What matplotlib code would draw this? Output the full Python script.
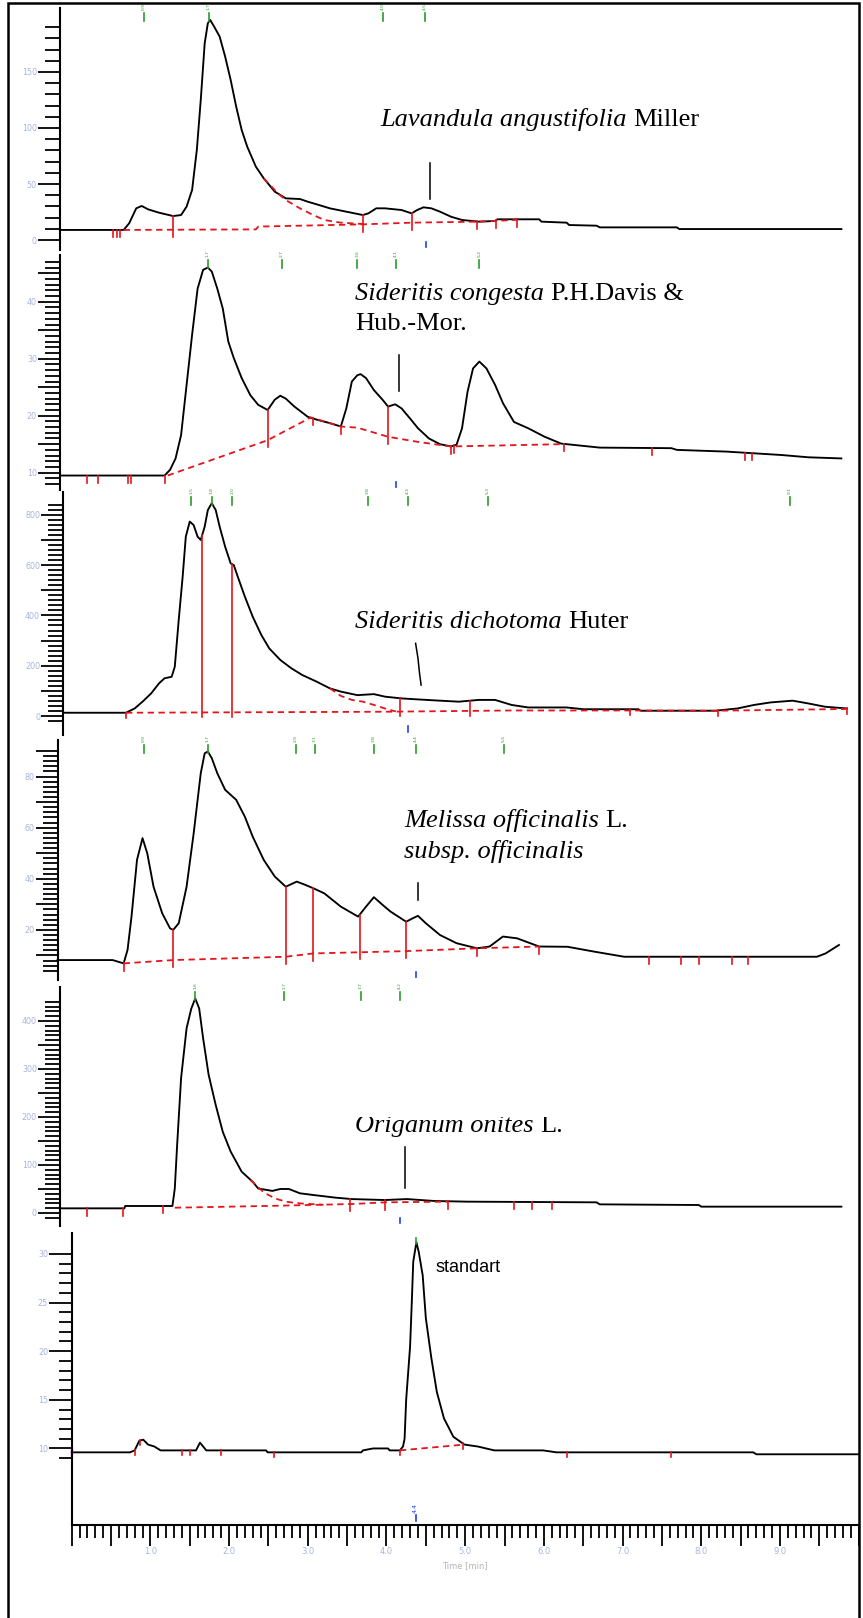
import matplotlib.pyplot as plt
import numpy as np
from matplotlib.ticker import FuncFormatter
from matplotlib.transforms import blended_transform_factory, Bbox
from matplotlib.patches import Rectangle

W, H = 863, 1618
RED = '#e3141c'
GREEN = '#2a9a2a'
BLUE = '#1f3fe6'
TICKCOL = '#a9b4de'

# ---------------- data (time in min, detector signal) ----------------
# Lavandula angustifolia Miller
lav_t = [-0.15, 0.66, 0.73, 0.82, 0.89, 0.97, 1.11, 1.29, 1.39, 1.46, 1.53, 1.59, 1.64, 1.69,
         1.73, 1.76, 1.81, 1.88, 1.95, 2.02, 2.09, 2.16, 2.23, 2.34, 2.44, 2.58, 2.72, 2.90,
         3.00, 3.14, 3.28, 3.49, 3.70, 3.77, 3.87, 3.98, 4.19, 4.32, 4.39, 4.47, 4.57, 4.68,
         4.82, 4.96, 5.17, 5.38, 5.41, 5.94, 5.97, 6.29, 6.32, 6.67, 6.71, 7.69, 7.72, 9.78]
lav_v = [9.0, 9.0, 14.9, 28.3, 30.4, 27.4, 24.4, 21.4, 22.3, 29.8, 44.7, 80.4, 125.0, 175.6,
         193.5, 196.4, 190.5, 181.6, 163.7, 142.9, 119.1, 98.2, 83.4, 65.5, 55.1, 43.2, 37.2, 36.6,
         34.2, 31.3, 28.3, 25.3, 22.3, 23.8, 28.3, 28.3, 26.8, 23.8, 26.8, 29.2, 28.3, 25.3,
         20.8, 17.9, 16.4, 17.0, 18.5, 18.5, 16.4, 15.5, 13.4, 12.8, 11.3, 11.3, 9.8, 9.8]
lav_base_t = [0.66, 2.34, 2.37, 3.70, 4.32, 5.17, 5.66]
lav_base_v = [9.0, 9.5, 12.0, 14.0, 15.5, 16.4, 18.0]
lav_tail_t = [2.44, 2.62, 2.72, 2.90, 3.07, 3.21, 3.42, 3.70]
lav_tail_v = [55.1, 41.7, 35.7, 28.3, 22.3, 17.9, 15.5, 14.3]
lav_cuts = [0.52, 0.57, 0.62, 1.29, 3.70, 4.32, 5.15, 5.39, 5.66]
lav_peaks = [0.92, 1.74, 3.95, 4.49]
lav_blue = [4.50]

# Sideritis congesta
con_t = [-0.15, 1.18, 1.25, 1.32, 1.39, 1.46, 1.53, 1.60, 1.67, 1.73, 1.78, 1.85, 1.92, 1.99,
         2.06, 2.16, 2.27, 2.37, 2.49, 2.58, 2.65, 2.72, 2.83, 3.00, 3.14, 3.28, 3.42, 3.49,
         3.56, 3.63, 3.67, 3.74, 3.84, 3.95, 4.02, 4.11, 4.19, 4.30, 4.40, 4.54, 4.68, 4.82,
         4.89, 4.96, 5.03, 5.10, 5.18, 5.27, 5.38, 5.48, 5.62, 5.80, 6.01, 6.22, 6.36, 6.71,
         7.62, 7.69, 8.32, 9.02, 9.36, 9.78]
con_v = [9.5, 9.5, 10.5, 12.5, 16.6, 25.4, 34.2, 42.3, 45.6, 46.0, 45.3, 42.3, 38.8, 33.0,
         30.1, 26.6, 23.6, 21.9, 21.0, 22.8, 23.5, 23.0, 21.6, 19.8, 19.2, 18.7, 18.1, 21.3,
         26.0, 27.1, 27.3, 26.6, 24.5, 22.8, 21.6, 22.0, 21.3, 19.5, 17.8, 16.0, 15.0, 14.6,
         14.9, 17.8, 24.2, 28.3, 29.5, 28.3, 25.4, 22.2, 18.9, 17.8, 16.3, 15.1, 14.9, 14.4,
         14.3, 14.0, 13.7, 13.1, 12.7, 12.5]
con_base_t = [1.22, 2.49, 3.04, 3.42, 3.63, 4.02, 4.40, 4.82, 5.17, 6.22]
con_base_v = [9.5, 15.7, 19.7, 18.1, 17.9, 16.3, 15.4, 14.6, 14.7, 15.0]
con_cuts = [0.20, 0.34, 0.71, 0.75, 1.18, 2.49, 3.06, 3.42, 4.02, 4.82, 4.86, 6.25, 7.38, 8.56, 8.65]
con_peaks = [1.73, 2.67, 3.63, 4.12, 5.18]
con_blue = [4.12]

# Sideritis dichotoma Huter
dic_t = [-0.11, 0.69, 0.80, 0.90, 1.01, 1.11, 1.18, 1.27, 1.31, 1.36, 1.41, 1.45, 1.50, 1.55,
         1.60, 1.64, 1.69, 1.73, 1.78, 1.83, 1.88, 1.95, 2.02, 2.06, 2.11, 2.20, 2.30, 2.41,
         2.51, 2.65, 2.79, 2.93, 3.11, 3.28, 3.42, 3.63, 3.84, 3.98, 4.19, 4.40, 4.68, 4.92,
         5.17, 5.38, 5.59, 5.80, 6.29, 6.50, 7.20, 7.23, 8.18, 8.46, 8.67, 8.88, 9.16, 9.36,
         9.57, 9.85]
dic_v = [13, 13, 30, 57, 90, 130, 150, 156, 196, 382, 554, 713, 773, 759,
         713, 700, 753, 819, 846, 819, 753, 673, 607, 600, 554, 475, 395, 322,
         269, 223, 190, 163, 137, 110, 97, 83, 87, 77, 70, 66, 61, 57,
         64, 64, 44, 34, 34, 27, 27, 21, 21, 30, 44, 54, 61, 50,
         37, 30]
dic_base_t = [0.69, 3.98, 5.59, 7.10, 8.20, 9.85]
dic_base_v = [13, 17, 22, 22, 21, 28]
dic_tail_t = [3.28, 3.42, 3.56, 3.70, 3.84, 3.98, 4.12]
dic_tail_v = [110, 80, 64, 57, 44, 30, 18]
dic_cuts = [0.69, 1.66, 2.04, 4.17, 5.06, 7.09, 8.21, 9.85]
dic_peaks = [1.52, 1.78, 2.04, 3.76, 4.27, 5.29, 9.13]
dic_blue = [4.27]

# Melissa officinalis L. subsp. officinalis
mel_t = [-0.18, 0.52, 0.66, 0.71, 0.76, 0.83, 0.90, 0.96, 1.04, 1.15, 1.25, 1.29, 1.36, 1.46,
         1.55, 1.64, 1.69, 1.73, 1.78, 1.85, 1.95, 2.09, 2.20, 2.30, 2.44, 2.58, 2.72, 2.86,
         2.97, 3.07, 3.21, 3.42, 3.64, 3.74, 3.84, 3.95, 4.05, 4.25, 4.33, 4.40, 4.50, 4.68,
         4.89, 5.15, 5.31, 5.48, 5.66, 5.94, 6.30, 6.64, 7.02, 9.47, 9.58, 9.75]
mel_v = [8.2, 8.2, 6.9, 12.2, 25.2, 47.4, 55.9, 50.0, 36.9, 26.5, 20.6, 20.0, 22.6, 36.9,
         57.8, 81.3, 89.1, 89.8, 87.2, 81.3, 74.8, 70.9, 64.3, 56.5, 47.4, 40.9, 36.9, 38.9,
         37.6, 36.3, 34.3, 29.1, 25.2, 29.1, 32.8, 29.8, 27.2, 23.2, 24.5, 25.5, 22.6, 18.0,
         14.8, 12.8, 13.5, 17.4, 16.7, 13.5, 13.4, 11.5, 9.5, 9.5, 10.8, 14.1]
mel_base_t = [0.66, 1.29, 2.72, 3.07, 4.25, 5.15, 5.94]
mel_base_v = [6.9, 8.2, 9.5, 10.8, 11.7, 12.8, 13.5]
mel_cuts = [0.66, 1.29, 2.72, 3.07, 3.66, 4.25, 5.15, 5.94, 7.34, 7.74, 7.97, 8.39, 8.60]
mel_peaks = [0.92, 1.73, 2.85, 3.09, 3.84, 4.37, 5.49]
mel_blue = [4.38]

# Origanum onites L.
ori_t = [-0.15, 0.67, 0.68, 1.28, 1.31, 1.34, 1.39, 1.46, 1.52, 1.57, 1.62, 1.67, 1.74, 1.83,
         1.92, 2.02, 2.16, 2.30, 2.37, 2.55, 2.65, 2.76, 2.90, 3.07, 3.35, 3.56, 3.98, 4.26,
         4.61, 5.03, 6.67, 6.71, 7.97, 8.00, 9.78]
ori_v = [9.7, 9.7, 14.6, 14.6, 51, 142, 281, 385, 426, 447, 426, 364, 288, 225,
         169, 128, 86, 65, 51, 46, 50, 50, 41, 37.5, 32, 29, 27, 29,
         25, 23.6, 22.2, 18, 16.6, 13.2, 13.2]
ori_base_t = [1.31, 2.58, 3.56, 3.98, 4.78]
ori_base_v = [11, 15, 18.7, 22.2, 23.6]
ori_tail_t = [2.27, 2.44, 2.58, 2.72, 2.90, 3.20]
ori_tail_v = [69, 43, 30.5, 23.6, 20, 17]
ori_cuts = [0.20, 0.65, 1.16, 3.54, 3.98, 4.78, 5.62, 5.85, 6.10]
ori_peaks = [1.57, 2.70, 3.67, 4.17]
ori_blue = [4.17]

# standart
std_t = [0.00, 0.74, 0.80, 0.86, 0.91, 0.97, 1.05, 1.13, 1.58, 1.63, 1.71, 2.47, 2.49, 3.68,
         3.70, 3.83, 4.02, 4.04, 4.17, 4.21, 4.23, 4.25, 4.30, 4.32, 4.34, 4.38, 4.41, 4.46,
         4.50, 4.57, 4.64, 4.73, 4.85, 4.99, 5.16, 5.37, 5.99, 6.16, 8.66, 8.70, 10.0]
std_v = [9.6, 9.6, 9.8, 10.8, 10.9, 10.4, 10.2, 9.8, 9.8, 10.6, 9.8, 9.8, 9.6, 9.6,
         9.8, 10.0, 10.0, 9.8, 9.8, 10.2, 11.0, 15.0, 20.5, 24.7, 29.2, 31.2, 30.2, 27.8,
         23.4, 19.3, 15.8, 13.1, 11.2, 10.4, 10.2, 9.8, 9.8, 9.6, 9.6, 9.4, 9.4]
std_base_t = [4.17, 4.99]
std_base_v = [9.8, 10.4]
std_cuts = [0.80, 0.87, 1.40, 1.50, 1.90, 2.57, 4.17, 4.97, 6.30, 7.62]
std_blue = [4.37]

# ---------------- figure ----------------
fig = plt.figure(figsize=(W / 100, H / 100), dpi=100)
XLIM = (-0.911, 10.055)


def make_axes(top_px, bot_px, ylim, spine_t, major, minor, lab_step, maj_len=16, min_len=10.5):
    ax = fig.add_axes([0, 1 - bot_px / H, 1, (bot_px - top_px) / H])
    ax.set_xlim(XLIM)
    ax.set_ylim(ylim)
    ax.patch.set_alpha(0)
    for s in ['top', 'right', 'bottom']:
        ax.spines[s].set_visible(False)
    ax.spines['left'].set_position(('data', spine_t))
    ax.spines['left'].set_linewidth(1.5)
    ax.set_xticks([])
    ax.set_yticks(major)
    ax.set_yticks(minor, minor=True)
    ax.yaxis.set_major_formatter(FuncFormatter(
        lambda y, p: f'{y:g}' if abs(y / lab_step - round(y / lab_step)) < 1e-6 else ''))
    ax.tick_params(axis='y', which='major', length=maj_len, width=1.3, direction='out',
                   labelsize=5.8, labelcolor=TICKCOL, pad=0.5)
    ax.tick_params(axis='y', which='minor', length=min_len, width=1.3, direction='out')
    return ax


def draw_trace(ax, t, v, base=None, tail=None, cuts=(), peaks=(), blue=(), drop=0.03):
    span = ax.get_ylim()[1] - ax.get_ylim()[0]
    d = drop * span
    ax.plot(t, v, color='black', lw=1.35)
    for part in (base, tail):
        if part is not None:
            ax.plot(part[0], part[1], color=RED, lw=1.3, ls=(0, (3.5, 2.5)))
    for tc in cuts:
        top = np.interp(tc, t, v)
        low = top
        if base is not None and base[0][0] <= tc <= base[0][-1]:
            low = min(top, np.interp(tc, base[0], base[1]))
        ax.plot([tc, tc], [low - d, top], color=RED, lw=1.2)
    tr = blended_transform_factory(ax.transData, ax.transAxes)
    for tp in peaks:
        ax.plot([tp, tp], [0.945, 0.978], color=GREEN, lw=1.2, transform=tr, clip_on=False)
        ax.text(tp, 0.99, f'{tp:.1f}', rotation=90, fontsize=3.2, color=GREEN, ha='center',
                va='bottom', transform=tr)
    for tb in blue:
        ax.plot([tb, tb], [0.012, 0.035], color=BLUE, lw=1.2, transform=tr, clip_on=False)
    return tr


ax1 = make_axes(8, 250, (-8.9, 207.1), -0.15, [0, 50, 100, 150], np.arange(0, 191, 10), 50)
draw_trace(ax1, lav_t, lav_v, (lav_base_t, lav_base_v), (lav_tail_t, lav_tail_v),
           lav_cuts, lav_peaks, lav_blue)
ax1.plot([4.55, 4.55], [68.8, 36.6], color='black', lw=1.1)

ax2 = make_axes(255, 490, (6.96, 48.2), -0.15, np.arange(10, 46, 5), np.arange(8, 48, 1), 10)
draw_trace(ax2, con_t, con_v, (con_base_t, con_base_v), None, con_cuts, con_peaks, con_blue)
ax2.plot([4.16, 4.16], [30.6, 24.3], color='black', lw=1.1)

ax3 = make_axes(492, 735, (-75.5, 890.7), -0.11, np.arange(0, 801, 100), np.arange(-20, 841, 20), 200)
draw_trace(ax3, dic_t, dic_v, (dic_base_t, dic_base_v), (dic_tail_t, dic_tail_v),
           dic_cuts, dic_peaks, dic_blue, drop=0.02)
ax3.plot([4.37, 4.40, 4.42, 4.44], [289, 230, 170, 123], color='black', lw=1.1)

ax4 = make_axes(740, 980, (0.4, 94.3), -0.18, np.arange(10, 91, 10), np.arange(4, 91, 2), 20)
draw_trace(ax4, mel_t, mel_v, (mel_base_t, mel_base_v), None, mel_cuts, mel_peaks, mel_blue)
ax4.plot([4.40, 4.40], [38.2, 31.7], color='black', lw=1.1)

ax5 = make_axes(987, 1226, (-27.1, 470.8), -0.15, np.arange(0, 401, 50), np.arange(-10, 441, 10), 100)
draw_trace(ax5, ori_t, ori_v, (ori_base_t, ori_base_v), (ori_tail_t, ori_tail_v),
           ori_cuts, ori_peaks, ori_blue)
ax5.plot([4.24, 4.24], [138.2, 51.4], color='black', lw=1.1)

ax6 = make_axes(1233, 1525, (2.13, 32.15), 0.0, np.arange(10, 31, 5), np.arange(9, 31, 1), 5,
                maj_len=16.5, min_len=9.5)
tr6 = draw_trace(ax6, std_t, std_v, (std_base_t, std_base_v), None, std_cuts, (), std_blue, drop=0.015)
ax6.plot([4.38, 4.38], [31.0, 31.6], color=GREEN, lw=1.2)
ax6.plot([0.0, 0.0], [9.2, 10.0], color='#d020d0', lw=1.6)
ax6.text(4.37, 0.058, '4.4', rotation=90, fontsize=4.5, color=BLUE, ha='center', va='center',
         transform=tr6)
ax6.spines['bottom'].set_visible(True)
ax6.spines['bottom'].set_linewidth(1.5)
ax6.spines['bottom'].set_bounds(0, 10.0)
ax6.set_xticks(np.arange(0, 10.01, 0.5))
ax6.set_xticks(np.arange(0, 10.01, 0.1), minor=True)
ax6.xaxis.set_major_formatter(FuncFormatter(
    lambda x, p: f'{x:.1f}' if (abs(x - round(x)) < 1e-6 and 1 <= x <= 9) else ''))
ax6.tick_params(axis='x', which='major', length=15, width=1.3, direction='out',
                labelsize=6, labelcolor=TICKCOL, pad=1)
ax6.tick_params(axis='x', which='minor', length=9, width=1.3, direction='out')
fig.text(465 / W, 1 - 1566 / H, 'Time [min]', fontsize=6, color='#b4b4b4', ha='center', va='center')

# ---------------- species labels ----------------
renderer = fig.canvas.get_renderer()


def put_label(x_px, y_px, parts, size=19, family='Liberation Serif', clip_top=None):
    x = x_px
    gap = 0.25 * size * 100 / 72
    for s, style in parts:
        txt = fig.text(x / W, 1 - y_px / H, s, fontsize=size, family=family, style=style,
                       ha='left', va='baseline')
        if clip_top is not None:
            # the scanned label is cut off along its top edge
            txt.set_clip_box(Bbox([[0, 0], [W, H - clip_top]]))
            txt.set_clip_on(True)
        x = txt.get_window_extent(renderer).x1 + gap


put_label(380, 126, [('Lavandula angustifolia', 'italic'), ('Miller', 'normal')])
put_label(355, 300, [('Sideritis congesta', 'italic'), ('P.H.Davis &', 'normal')])
put_label(355, 330, [('Hub.-Mor.', 'normal')])
put_label(355, 628, [('Sideritis dichotoma', 'italic'), ('Huter', 'normal')])
put_label(404, 827, [('Melissa officinalis', 'italic'), ('L.', 'normal')])
put_label(404, 858, [('subsp. officinalis', 'italic')])
put_label(355, 1132, [('Origanum onites', 'italic'), ('L.', 'normal')], clip_top=1117)
put_label(435, 1272, [('standart', 'normal')], size=13, family='Liberation Sans')

# outer frame
fig.patches.append(Rectangle((8 / W, -0.01), (859 - 8) / W, 1.01 - 3 / H, transform=fig.transFigure,
                             fill=False, ec='black', lw=1.8))

fig.savefig('out.png', dpi=100)
